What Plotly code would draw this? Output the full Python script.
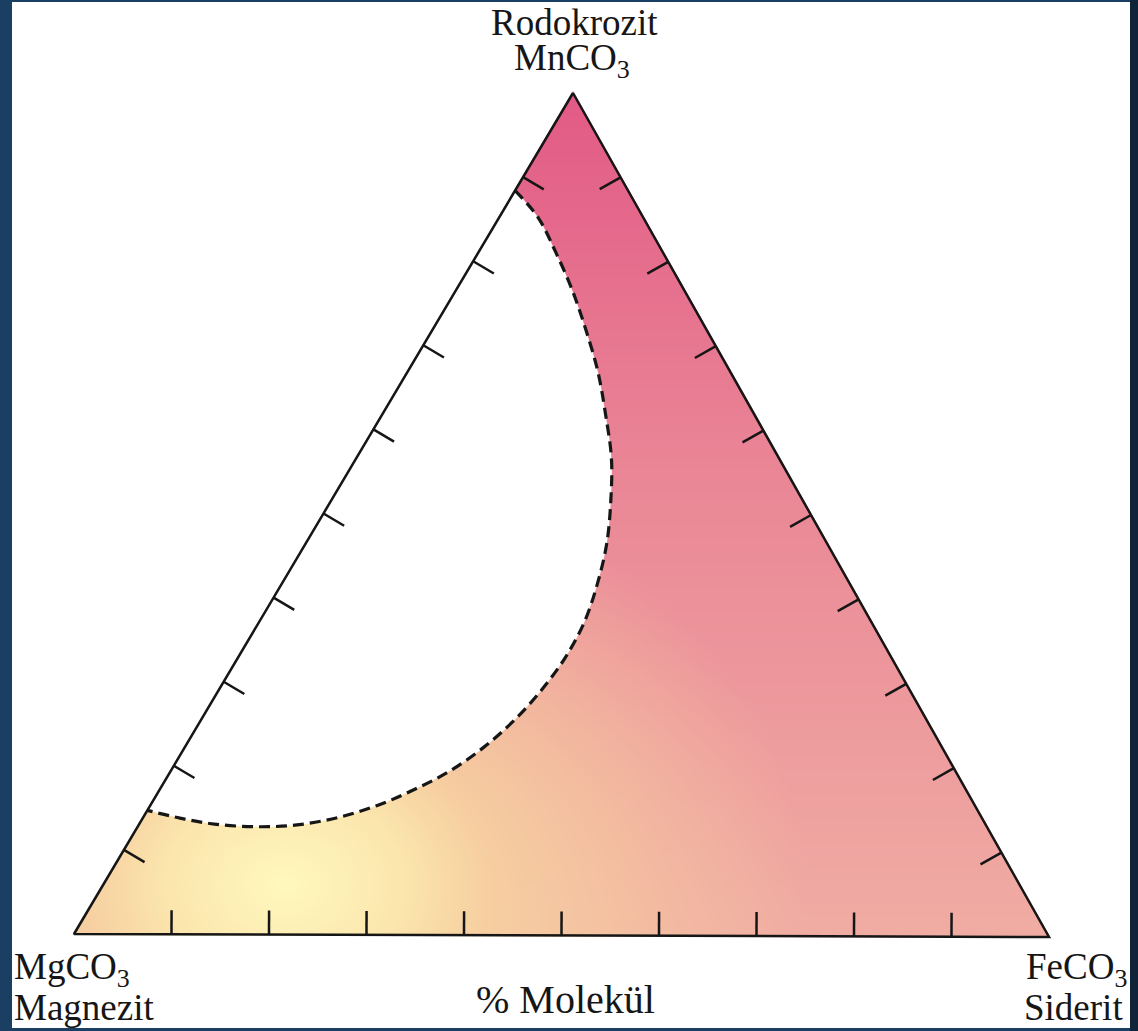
import base64
import struct
import zlib

import numpy as np
import plotly.graph_objects as go

# ---------------- data ----------------
corner_names = ["Rodokrozit", "Magnezit", "Siderit"]
corner_formulas = ["MnCO<sub>3</sub>", "MgCO<sub>3</sub>", "FeCO<sub>3</sub>"]
axis_title = "% Molekül"
tick_percent = [10, 20, 30, 40, 50, 60, 70, 80, 90]

# boundary of the white (miscibility gap) field, mol %
boundary_mn = [88.4, 85.2, 81.1, 76.6, 71.9, 66.9, 61.8, 56.7, 51.7, 46.6, 41.8, 37.2, 32.9,
               28.9, 25.3, 22.3, 19.5, 17.3, 15.4, 13.9, 13.0, 12.8, 13.1, 13.8, 14.7]
boundary_fe = [0.0, 4.0, 7.9, 11.9, 15.7, 19.5, 22.9, 26.1, 28.6, 30.8, 32.3, 33.3, 33.5,
               33.0, 32.0, 30.6, 28.6, 26.1, 23.3, 19.9, 16.0, 12.0, 7.7, 3.8, 0.0]
boundary_mg = [100 - a - b for a, b in zip(boundary_mn, boundary_fe)]

# ---------------- layout geometry (pixel canvas) ----------------
W, H = 1138, 1031
APEX = np.array([573.0, 93.0])    # MnCO3 corner
LEFT = np.array([74.0, 934.0])    # MgCO3 corner
RIGHT = np.array([1049.0, 937.0])  # FeCO3 corner
TICK_LEN = 24.0
PANEL = dict(l=12, r=8, t=2, b=3)


def tern_xy(mn, fe, mg):
    mn = np.asarray(mn, float)
    fe = np.asarray(fe, float)
    mg = np.asarray(mg, float)
    s = mn + fe + mg
    x = (mn * APEX[0] + fe * RIGHT[0] + mg * LEFT[0]) / s
    y = (mn * APEX[1] + fe * RIGHT[1] + mg * LEFT[1]) / s
    return x, y


centroid = (APEX + LEFT + RIGHT) / 3.0


def inward_normal(p, q):
    d = q - p
    n = np.array([-d[1], d[0]]) / np.hypot(*d)
    mid = (p + q) / 2
    if np.dot(centroid - mid, n) < 0:
        n = -n
    return n


# ---------------- gradient fill image ----------------
x0, y0 = 60, 82
iw, ih = 1000, 866
X, Y = np.meshgrid(np.arange(iw) + x0 + 0.5, np.arange(ih) + y0 + 0.5)


def signed_dist(p, q, r):
    d = q - p
    nrm = np.hypot(*d)
    f = lambda px, py: (d[0] * (py - p[1]) - d[1] * (px - p[0])) / nrm
    sgn = np.sign(f(r[0], r[1]))
    return sgn * f(X, Y)


dmin = np.minimum.reduce([signed_dist(APEX, LEFT, RIGHT),
                          signed_dist(LEFT, RIGHT, APEX),
                          signed_dist(RIGHT, APEX, LEFT)])
alpha = np.clip(dmin + 1.5, 0, 1)

t = np.clip((Y - APEX[1]) / (LEFT[1] - APEX[1]), 0, 1)[..., None]
c_top = np.array([226, 90, 134], float)
c_mid = np.array([234, 134, 150], float)
c_bot = np.array([240, 172, 163], float)
tm = 0.45
base = np.where(t < tm,
                c_top + (c_mid - c_top) * (t / tm),
                c_mid + (c_bot - c_mid) * ((t - tm) / (1 - tm)))

gc = np.array([285.0, 885.0])
dist = np.sqrt(((X - gc[0]) / 1.0) ** 2 + ((Y - gc[1]) / 0.8) ** 2)[..., None]
g_in = np.array([255, 248, 190], float)
g_out = np.array([248, 216, 160], float)
gcol = g_in + (g_out - g_in) * np.clip(dist / 210.0, 0, 1)
ga = np.clip(1 - (dist - 120.0) / 400.0, 0, 1)
rgb = base * (1 - ga) + gcol * ga
rgba = np.dstack([np.clip(rgb, 0, 255), alpha[..., None] * 255]).round().astype(np.int16)


def png_uri(arr):
    h, w, _ = arr.shape
    sub = arr.copy()
    sub[:, 1:, :] = (arr[:, 1:, :] - arr[:, :-1, :]) % 256
    rows = np.concatenate([np.ones((h, 1), np.uint8),
                           sub.astype(np.uint8).reshape(h, w * 4)], axis=1)
    comp = zlib.compress(rows.tobytes(), 9)

    def chunk(tag, data):
        return (struct.pack(">I", len(data)) + tag + data +
                struct.pack(">I", zlib.crc32(tag + data) & 0xFFFFFFFF))

    png = (b"\x89PNG\r\n\x1a\n" +
           chunk(b"IHDR", struct.pack(">IIBBBBB", w, h, 8, 6, 0, 0, 0)) +
           chunk(b"IDAT", comp) + chunk(b"IEND", b""))
    return "data:image/png;base64," + base64.b64encode(png).decode()


# ---------------- figure ----------------
fig = go.Figure()

# white field bounded by the dashed curve
bx, by = tern_xy(boundary_mn, boundary_fe, boundary_mg)
fig.add_trace(go.Scatter(x=bx, y=by, mode="lines", fill="toself",
                         fillcolor="white",
                         line=dict(color="rgba(0,0,0,0)", width=0, shape="spline"),
                         hoverinfo="skip", showlegend=False))
fig.add_trace(go.Scatter(x=bx, y=by, mode="lines",
                         line=dict(color="#161616", width=3.2, dash="11px,6px",
                                   shape="spline"),
                         hoverinfo="skip", showlegend=False))

# ticks
tx, ty = [], []
edges = [  # (start corner, end corner, composition function)
    (LEFT, RIGHT, lambda p: (0, p, 100 - p)),   # base: Fe %
    (LEFT, APEX, lambda p: (p, 0, 100 - p)),    # left side: Mn %
    (RIGHT, APEX, lambda p: (p, 100 - p, 0)),   # right side: Mn %
]
for p0, p1, comp in edges:
    n = inward_normal(p0, p1)
    for p in tick_percent:
        ex, ey = tern_xy(*comp(p))
        tx += [float(ex), float(ex + n[0] * TICK_LEN), None]
        ty += [float(ey), float(ey + n[1] * TICK_LEN), None]
fig.add_trace(go.Scatter(x=tx, y=ty, mode="lines",
                         line=dict(color="#161616", width=2.5),
                         hoverinfo="skip", showlegend=False))

# triangle outline
ox, oy = tern_xy([100, 0, 0, 100], [0, 0, 100, 0], [0, 100, 0, 0])
fig.add_trace(go.Scatter(x=ox, y=oy, mode="lines",
                         line=dict(color="#161616", width=2.5),
                         hoverinfo="skip", showlegend=False))

font = dict(family="Liberation Serif, Times New Roman, serif", size=37, color="#161616")
ann = [
    dict(text=corner_names[0], x=574, y=22, xanchor="center", yanchor="middle"),
    dict(text=corner_formulas[0], x=572, y=60, xanchor="center", yanchor="middle"),
    dict(text=corner_formulas[1], x=12, y=969, xanchor="left", yanchor="middle"),
    dict(text=corner_names[1], x=12, y=1007, xanchor="left", yanchor="middle"),
    dict(text=axis_title, x=565, y=999, xanchor="center", yanchor="middle",
         font=dict(font, size=40)),
    dict(text=corner_formulas[2], x=1129, y=969, xanchor="right", yanchor="middle"),
    dict(text=corner_names[2], x=1125, y=1007, xanchor="right", yanchor="middle"),
]
for a in ann:
    a.setdefault("font", font)
    fig.add_annotation(**a, xref="x", yref="y", showarrow=False)

fig.add_layout_image(dict(source=png_uri(rgba), xref="x", yref="y", x=x0, y=y0,
                          sizex=iw, sizey=ih, xanchor="left", yanchor="top",
                          sizing="stretch", layer="below"))

# darker frame strip on the right edge (outside the white panel)
fig.add_shape(type="rect", xref="paper", yref="paper", x0=1.0, x1=1.01, y0=-0.01, y1=1.01,
              fillcolor="#0f2439", line_width=0, layer="above")

fig.update_layout(
    width=W, height=H,
    margin=dict(l=PANEL["l"], r=PANEL["r"], t=PANEL["t"], b=PANEL["b"], pad=0),
    paper_bgcolor="#1b3e63", plot_bgcolor="white",
    xaxis=dict(range=[PANEL["l"], W - PANEL["r"]], visible=False, fixedrange=True),
    yaxis=dict(range=[H - PANEL["b"], PANEL["t"]], visible=False, fixedrange=True),
    showlegend=False,
)

fig.write_html("out.html")
